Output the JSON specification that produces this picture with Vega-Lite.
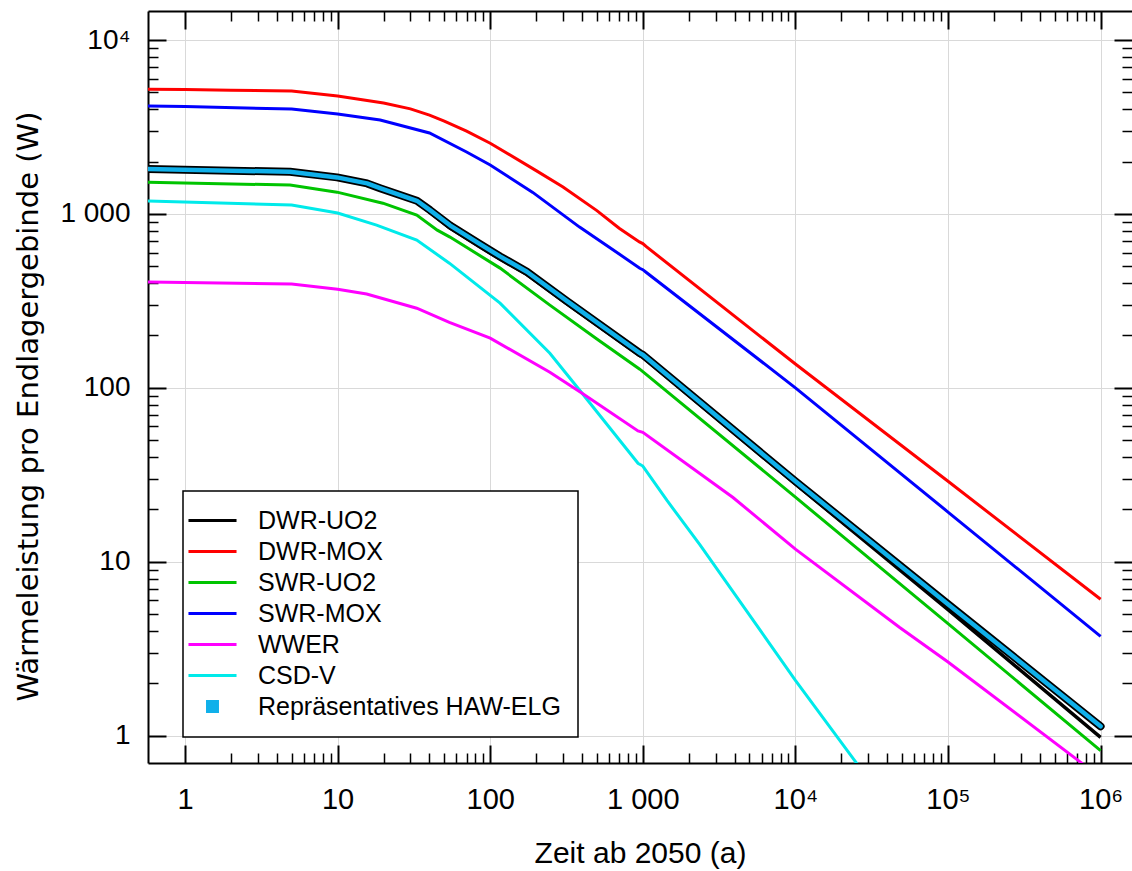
{
  "$schema": "https://vega.github.io/schema/vega-lite/v6.json",
  "background": "white",
  "autosize": {"type": "none"},
  "padding": {"left": 148, "top": 11, "right": 0, "bottom": 108},
  "width": 984,
  "height": 752,
  "config": {"view": {"stroke": null}, "font": "Liberation Sans"},
  "data": {"values": [
    {"series": "DWR-MOX", "t": 0.572, "P": 5220}, {"series": "DWR-MOX", "t": 1, "P": 5200}, {"series": "DWR-MOX", "t": 2, "P": 5150}, {"series": "DWR-MOX", "t": 5, "P": 5090}, {"series": "DWR-MOX", "t": 10, "P": 4760}, {"series": "DWR-MOX", "t": 20, "P": 4340}, {"series": "DWR-MOX", "t": 30, "P": 4020}, {"series": "DWR-MOX", "t": 40, "P": 3700}, {"series": "DWR-MOX", "t": 50, "P": 3420}, {"series": "DWR-MOX", "t": 70, "P": 2990}, {"series": "DWR-MOX", "t": 100, "P": 2550}, {"series": "DWR-MOX", "t": 200, "P": 1775}, {"series": "DWR-MOX", "t": 300, "P": 1430}, {"series": "DWR-MOX", "t": 500, "P": 1045}, {"series": "DWR-MOX", "t": 700, "P": 828}, {"series": "DWR-MOX", "t": 950, "P": 690}, {"series": "DWR-MOX", "t": 1000, "P": 675}, {"series": "DWR-MOX", "t": 1050, "P": 650}, {"series": "DWR-MOX", "t": 10000, "P": 137}, {"series": "DWR-MOX", "t": 100000, "P": 29}, {"series": "DWR-MOX", "t": 1000000, "P": 6.08},
    {"series": "SWR-MOX", "t": 0.572, "P": 4170}, {"series": "SWR-MOX", "t": 1, "P": 4150}, {"series": "SWR-MOX", "t": 5, "P": 4010}, {"series": "SWR-MOX", "t": 10, "P": 3750}, {"series": "SWR-MOX", "t": 19, "P": 3470}, {"series": "SWR-MOX", "t": 40, "P": 2920}, {"series": "SWR-MOX", "t": 70, "P": 2270}, {"series": "SWR-MOX", "t": 100, "P": 1910}, {"series": "SWR-MOX", "t": 190, "P": 1330}, {"series": "SWR-MOX", "t": 385, "P": 840}, {"series": "SWR-MOX", "t": 700, "P": 588}, {"series": "SWR-MOX", "t": 955, "P": 487}, {"series": "SWR-MOX", "t": 1000, "P": 478}, {"series": "SWR-MOX", "t": 1050, "P": 462}, {"series": "SWR-MOX", "t": 10000, "P": 100}, {"series": "SWR-MOX", "t": 100000, "P": 19.3}, {"series": "SWR-MOX", "t": 1000000, "P": 3.72},
    {"series": "SWR-UO2", "t": 0.572, "P": 1523}, {"series": "SWR-UO2", "t": 4.88, "P": 1465}, {"series": "SWR-UO2", "t": 9.91, "P": 1334}, {"series": "SWR-UO2", "t": 19.8, "P": 1153}, {"series": "SWR-UO2", "t": 33, "P": 984}, {"series": "SWR-UO2", "t": 45, "P": 807}, {"series": "SWR-UO2", "t": 54.5, "P": 736}, {"series": "SWR-UO2", "t": 116, "P": 488}, {"series": "SWR-UO2", "t": 246, "P": 299}, {"series": "SWR-UO2", "t": 500, "P": 191}, {"series": "SWR-UO2", "t": 955, "P": 128}, {"series": "SWR-UO2", "t": 1000, "P": 124}, {"series": "SWR-UO2", "t": 10000, "P": 23.5}, {"series": "SWR-UO2", "t": 100000, "P": 4.4}, {"series": "SWR-UO2", "t": 1000000, "P": 0.82},
    {"series": "WWER", "t": 0.572, "P": 406}, {"series": "WWER", "t": 5, "P": 395}, {"series": "WWER", "t": 10, "P": 369}, {"series": "WWER", "t": 15.5, "P": 346}, {"series": "WWER", "t": 33, "P": 287}, {"series": "WWER", "t": 54, "P": 238}, {"series": "WWER", "t": 100, "P": 193}, {"series": "WWER", "t": 246, "P": 123}, {"series": "WWER", "t": 400, "P": 93}, {"series": "WWER", "t": 930, "P": 56.5}, {"series": "WWER", "t": 1000, "P": 55.5}, {"series": "WWER", "t": 3900, "P": 23.4}, {"series": "WWER", "t": 10000, "P": 11.8}, {"series": "WWER", "t": 48000, "P": 4.2}, {"series": "WWER", "t": 100000, "P": 2.65}, {"series": "WWER", "t": 760000, "P": 0.69}, {"series": "WWER", "t": 1000000, "P": 0.58},
    {"series": "CSD-V", "t": 0.572, "P": 1185}, {"series": "CSD-V", "t": 5, "P": 1125}, {"series": "CSD-V", "t": 10, "P": 1012}, {"series": "CSD-V", "t": 18, "P": 863}, {"series": "CSD-V", "t": 33, "P": 707}, {"series": "CSD-V", "t": 54, "P": 521}, {"series": "CSD-V", "t": 116, "P": 307}, {"series": "CSD-V", "t": 246, "P": 158}, {"series": "CSD-V", "t": 400, "P": 93}, {"series": "CSD-V", "t": 930, "P": 36.8}, {"series": "CSD-V", "t": 1000, "P": 35.5}, {"series": "CSD-V", "t": 1440, "P": 22.5}, {"series": "CSD-V", "t": 2370, "P": 12.5}, {"series": "CSD-V", "t": 10000, "P": 2.08}, {"series": "CSD-V", "t": 25300, "P": 0.69}, {"series": "CSD-V", "t": 30000, "P": 0.56},
    {"series": "DWR-UO2", "t": 0.572, "P": 1795}, {"series": "DWR-UO2", "t": 4.88, "P": 1730}, {"series": "DWR-UO2", "t": 9.91, "P": 1605}, {"series": "DWR-UO2", "t": 15.6, "P": 1480}, {"series": "DWR-UO2", "t": 18.96, "P": 1385}, {"series": "DWR-UO2", "t": 33.1, "P": 1165}, {"series": "DWR-UO2", "t": 40.3, "P": 1020}, {"series": "DWR-UO2", "t": 54.5, "P": 828}, {"series": "DWR-UO2", "t": 85.8, "P": 645}, {"series": "DWR-UO2", "t": 116, "P": 548}, {"series": "DWR-UO2", "t": 174, "P": 448}, {"series": "DWR-UO2", "t": 319, "P": 304}, {"series": "DWR-UO2", "t": 959, "P": 153}, {"series": "DWR-UO2", "t": 1000, "P": 150}, {"series": "DWR-UO2", "t": 10000, "P": 28}, {"series": "DWR-UO2", "t": 100000, "P": 5.3}, {"series": "DWR-UO2", "t": 1000000, "P": 0.976},
    {"series": "Repräsentatives HAW-ELG", "t": 0.572, "P": 1810}, {"series": "Repräsentatives HAW-ELG", "t": 4.88, "P": 1747}, {"series": "Repräsentatives HAW-ELG", "t": 9.91, "P": 1622}, {"series": "Repräsentatives HAW-ELG", "t": 15.6, "P": 1498}, {"series": "Repräsentatives HAW-ELG", "t": 18.96, "P": 1407}, {"series": "Repräsentatives HAW-ELG", "t": 33.1, "P": 1190}, {"series": "Repräsentatives HAW-ELG", "t": 40.3, "P": 1052}, {"series": "Repräsentatives HAW-ELG", "t": 54.5, "P": 860}, {"series": "Repräsentatives HAW-ELG", "t": 85.8, "P": 670}, {"series": "Repräsentatives HAW-ELG", "t": 116, "P": 570}, {"series": "Repräsentatives HAW-ELG", "t": 174, "P": 465}, {"series": "Repräsentatives HAW-ELG", "t": 319, "P": 315}, {"series": "Repräsentatives HAW-ELG", "t": 959, "P": 158}, {"series": "Repräsentatives HAW-ELG", "t": 1000, "P": 155}, {"series": "Repräsentatives HAW-ELG", "t": 10000, "P": 29}, {"series": "Repräsentatives HAW-ELG", "t": 100000, "P": 5.7}, {"series": "Repräsentatives HAW-ELG", "t": 1000000, "P": 1.13}
  ]},
  "encoding": {
    "color": {
      "field": "series", "type": "nominal",
      "scale": {
        "domain": ["DWR-UO2", "DWR-MOX", "SWR-UO2", "SWR-MOX", "WWER", "CSD-V", "Repräsentatives HAW-ELG"],
        "range": ["#000000", "#ff0000", "#00c400", "#0000ff", "#ff00ff", "#00eaea", "#10b0ea"]
      },
      "legend": {
        "title": null,
        "orient": "none",
        "legendX": 35,
        "legendY": 480,
        "padding": 17,
        "fillColor": "white",
        "strokeColor": "black",
        "labelFont": "Liberation Sans",
        "labelFontSize": 25,
        "labelColor": "black",
        "labelOffset": 33,
        "labelLimit": 400,
        "symbolSize": 729,
        "symbolType": "M-1.78,0H1.78",
        "rowPadding": 5,
        "encode": {
          "legend": {"update": {"strokeWidth": {"value": 1.5}}},
          "symbols": {"update": {
            "shape": {"signal": "datum.value === 'Repräsentatives HAW-ELG' ? 'square' : 'M-1.78,0H1.78'"},
            "size": {"signal": "datum.value === 'Repräsentatives HAW-ELG' ? 120 : 729"},
            "fill": {"signal": "datum.value === 'Repräsentatives HAW-ELG' ? '#10b0ea' : 'transparent'"},
            "stroke": {"signal": "datum.value === 'Repräsentatives HAW-ELG' ? 'black' : scale('color', datum.value)"},
            "strokeWidth": {"signal": "datum.value === 'Repräsentatives HAW-ELG' ? 2 : 3"},
            "opacity": {"value": 1}
          }}
        }
      }
    }
  },
  "resolve": {"axis": {"x": "independent", "y": "independent"}},
  "layer": [
    {
      "transform": [{"filter": "datum.series === 'CSD-V'"}],
      "mark": {"type": "line", "strokeWidth": 3, "clip": true},
      "encoding": {
        "x": {"field": "t", "type": "quantitative", "scale": {"type": "log", "domain": [0.572, 1606000], "nice": false},
          "axis": {"orient": "bottom", "values": [1, 10, 100, 1000, 10000, 100000, 1000000],
            "labelExpr": "datum.value == 1 ? '1' : datum.value == 10 ? '10' : datum.value == 100 ? '100' : datum.value == 1000 ? '1 000' : datum.value == 10000 ? '10⁴' : datum.value == 100000 ? '10⁵' : '10⁶'",
            "title": "Zeit ab 2050 (a)", "grid": true, "gridColor": "#d9d9d9", "gridWidth": 1,
            "tickSize": -18, "tickWidth": 2, "tickColor": "black", "domainColor": "black", "domainWidth": 2,
            "labelPadding": 40, "labelFont": "Liberation Sans", "labelFontSize": 29, "labelColor": "black", "labelFlush": false, "labelOverlap": false,
            "titleFont": "Liberation Sans", "titleFontSize": 30, "titleFontWeight": "normal", "titleColor": "black", "titleX": 492, "titleY": 99, "titleBaseline": "alphabetic"}},
        "y": {"field": "P", "type": "quantitative", "scale": {"type": "log", "domain": [0.6955, 14690], "nice": false},
          "axis": {"orient": "left", "values": [1, 10, 100, 1000, 10000],
            "labelExpr": "datum.value == 10000 ? '10⁴' : datum.value == 1000 ? '1 000' : datum.value == 100 ? '100' : datum.value == 10 ? '10' : '1'",
            "title": "Wärmeleistung pro Endlagergebinde (W)", "grid": true, "gridColor": "#d9d9d9", "gridWidth": 1,
            "tickSize": -18, "tickWidth": 2, "tickColor": "black", "domainColor": "black", "domainWidth": 2,
            "labelPadding": 36, "labelFont": "Liberation Sans", "labelFontSize": 28, "labelColor": "black", "labelFlush": false, "labelOverlap": false,
            "titleFont": "DejaVu Sans", "titleFontSize": 29, "titleFontWeight": "normal", "titleColor": "black", "titleAngle": -90, "titleX": -111, "titleY": 395, "titleBaseline": "alphabetic", "titleAlign": "center"}}
      }
    },
    {
      "transform": [{"filter": "datum.series === 'WWER'"}],
      "mark": {"type": "line", "strokeWidth": 3, "clip": true},
      "encoding": {
        "x": {"field": "t", "type": "quantitative", "scale": {"type": "log", "domain": [0.572, 1606000], "nice": false},
          "axis": {"orient": "bottom", "values": [2, 3, 4, 5, 6, 7, 8, 9, 20, 30, 40, 50, 60, 70, 80, 90, 200, 300, 400, 500, 600, 700, 800, 900, 2000, 3000, 4000, 5000, 6000, 7000, 8000, 9000, 20000, 30000, 40000, 50000, 60000, 70000, 80000, 90000, 200000, 300000, 400000, 500000, 600000, 700000, 800000, 900000],
            "labels": false, "grid": false, "domain": false, "title": null, "tickSize": -10, "tickWidth": 1.5, "tickColor": "black"}},
        "y": {"field": "P", "type": "quantitative", "scale": {"type": "log", "domain": [0.6955, 14690], "nice": false},
          "axis": {"orient": "left", "values": [2, 3, 4, 5, 6, 7, 8, 9, 20, 30, 40, 50, 60, 70, 80, 90, 200, 300, 400, 500, 600, 700, 800, 900, 2000, 3000, 4000, 5000, 6000, 7000, 8000, 9000],
            "labels": false, "grid": false, "domain": false, "title": null, "tickSize": -10, "tickWidth": 1.5, "tickColor": "black"}}
      }
    },
    {
      "transform": [{"filter": "datum.series === 'SWR-UO2'"}],
      "mark": {"type": "line", "strokeWidth": 3, "clip": true},
      "encoding": {
        "x": {"field": "t", "type": "quantitative", "scale": {"type": "log", "domain": [0.572, 1606000], "nice": false},
          "axis": {"orient": "top", "values": [1, 10, 100, 1000, 10000, 100000, 1000000],
            "labels": false, "grid": false, "domain": true, "domainColor": "black", "domainWidth": 2, "title": null, "tickSize": -18, "tickWidth": 2, "tickColor": "black"}},
        "y": {"field": "P", "type": "quantitative", "scale": {"type": "log", "domain": [0.6955, 14690], "nice": false},
          "axis": {"orient": "right", "values": [1, 10, 100, 1000, 10000],
            "labels": false, "grid": false, "domain": false, "title": null, "tickSize": -18, "tickWidth": 2, "tickColor": "black"}}
      }
    },
    {
      "transform": [{"filter": "datum.series === 'SWR-MOX'"}],
      "mark": {"type": "line", "strokeWidth": 3, "clip": true},
      "encoding": {
        "x": {"field": "t", "type": "quantitative", "scale": {"type": "log", "domain": [0.572, 1606000], "nice": false},
          "axis": {"orient": "top", "values": [2, 3, 4, 5, 6, 7, 8, 9, 20, 30, 40, 50, 60, 70, 80, 90, 200, 300, 400, 500, 600, 700, 800, 900, 2000, 3000, 4000, 5000, 6000, 7000, 8000, 9000, 20000, 30000, 40000, 50000, 60000, 70000, 80000, 90000, 200000, 300000, 400000, 500000, 600000, 700000, 800000, 900000],
            "labels": false, "grid": false, "domain": false, "title": null, "tickSize": -10, "tickWidth": 1.5, "tickColor": "black"}},
        "y": {"field": "P", "type": "quantitative", "scale": {"type": "log", "domain": [0.6955, 14690], "nice": false},
          "axis": {"orient": "right", "values": [2, 3, 4, 5, 6, 7, 8, 9, 20, 30, 40, 50, 60, 70, 80, 90, 200, 300, 400, 500, 600, 700, 800, 900, 2000, 3000, 4000, 5000, 6000, 7000, 8000, 9000],
            "labels": false, "grid": false, "domain": false, "title": null, "tickSize": -10, "tickWidth": 1.5, "tickColor": "black"}}
      }
    },
    {
      "transform": [{"filter": "datum.series === 'DWR-MOX'"}],
      "mark": {"type": "line", "strokeWidth": 3, "clip": true},
      "encoding": {
        "x": {"field": "t", "type": "quantitative", "scale": {"type": "log", "domain": [0.572, 1606000], "nice": false}, "axis": null},
        "y": {"field": "P", "type": "quantitative", "scale": {"type": "log", "domain": [0.6955, 14690], "nice": false}, "axis": null}
      }
    },
    {
      "transform": [{"filter": "datum.series === 'DWR-UO2'"}],
      "mark": {"type": "line", "strokeWidth": 3.5, "clip": true},
      "encoding": {
        "x": {"field": "t", "type": "quantitative", "scale": {"type": "log", "domain": [0.572, 1606000], "nice": false}, "axis": null},
        "y": {"field": "P", "type": "quantitative", "scale": {"type": "log", "domain": [0.6955, 14690], "nice": false}, "axis": null}
      }
    },
    {
      "transform": [{"filter": "datum.series === 'Repräsentatives HAW-ELG'"}],
      "mark": {"type": "line", "strokeWidth": 8, "strokeCap": "round", "strokeJoin": "round", "clip": true},
      "encoding": {
        "x": {"field": "t", "type": "quantitative", "scale": {"type": "log", "domain": [0.572, 1606000], "nice": false}, "axis": null},
        "y": {"field": "P", "type": "quantitative", "scale": {"type": "log", "domain": [0.6955, 14690], "nice": false}, "axis": null},
        "color": {"value": "black"}
      }
    },
    {
      "transform": [{"filter": "datum.series === 'Repräsentatives HAW-ELG'"}],
      "mark": {"type": "line", "strokeWidth": 4.5, "strokeCap": "round", "strokeJoin": "round", "clip": true},
      "encoding": {
        "x": {"field": "t", "type": "quantitative", "scale": {"type": "log", "domain": [0.572, 1606000], "nice": false}, "axis": null},
        "y": {"field": "P", "type": "quantitative", "scale": {"type": "log", "domain": [0.6955, 14690], "nice": false}, "axis": null}
      }
    }
  ]
}
